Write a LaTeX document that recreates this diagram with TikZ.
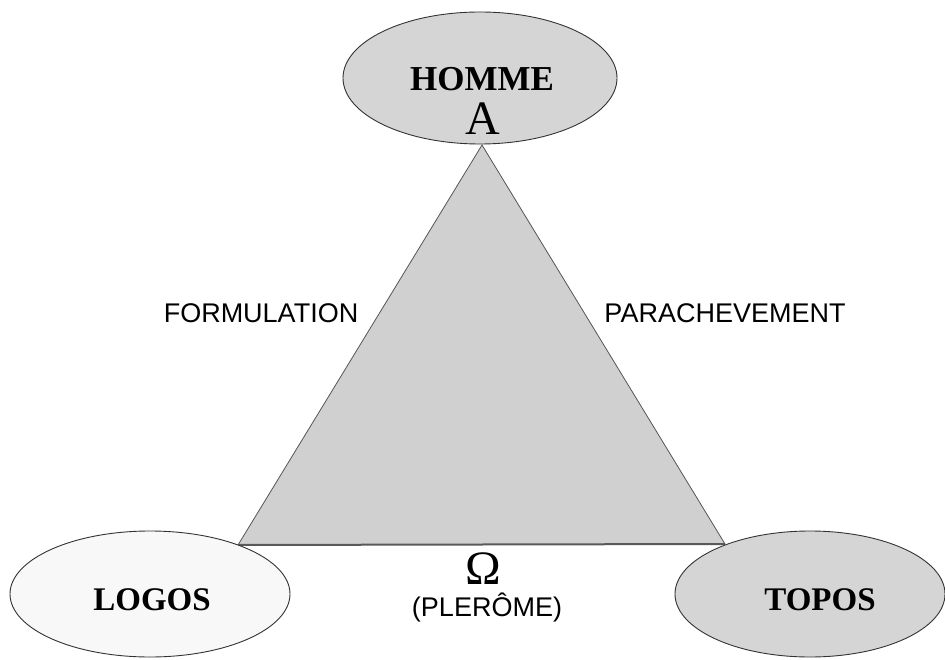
\documentclass[tikz,border=0pt]{standalone}
\usepackage{fontspec}
\setmainfont{Liberation Serif}
\setsansfont{Liberation Sans}
\usetikzlibrary{shapes.geometric}
\definecolor{trigray}{HTML}{D0D0D0}
\definecolor{ovalgray}{HTML}{D5D5D5}
\definecolor{ovalwhite}{HTML}{F8F8F8}
\definecolor{edgegray}{HTML}{555555}
\begin{document}
\begin{tikzpicture}[x=1pt,y=-1pt]
    \tikzstyle{every node}+=[inner sep=0pt]
    \tikzstyle{oval}=[ellipse,draw=black!80,line width=0.9pt]
    \tikzstyle{big}=[font=\fontsize{33}{33}\selectfont\bfseries]
    \tikzstyle{side}=[font=\sffamily\fontsize{27}{27}\selectfont]
    \useasboundingbox (0,0) rectangle (945,660);
    % sommets du triangle
    \coordinate (top) at (482,145);
    \coordinate (left) at (238,545);
    \coordinate (right) at (725,544);
    \fill [trigray] (top) -- (left) -- (right) -- cycle;
    \draw [edgegray,line width=0.8pt] (left) -- (top) -- (right);
    \draw [black!65,line width=2pt] (left) -- (right);
    % les trois ovales
    \node [oval,fill=ovalgray,minimum width=274pt,minimum height=132pt] (homme) at (480,78) {};
    \node [oval,fill=ovalwhite,minimum width=280pt,minimum height=126pt] (logos) at (150,594) {};
    \node [oval,fill=ovalgray,minimum width=270pt,minimum height=126pt] (topos) at (810,594) {};
    \draw (482,79) node [big,font=\fontsize{35}{35}\selectfont\bfseries] {HOMME};
    \draw (483,119) node [font=\fontsize{48}{48}\selectfont] {A};
    \draw (152,600) node [big] {LOGOS};
    \draw (820,600) node [big] {TOPOS};
    % textes
    \draw (261,313) node [side] {FORMULATION};
    \draw (725,313) node [side] {PARACHEVEMENT};
    \draw (483,569) node [font=\fontsize{48}{48}\selectfont] {Ω};
    \draw (487,607) node [side] {(PLERÔME)};
\end{tikzpicture}
\end{document}
